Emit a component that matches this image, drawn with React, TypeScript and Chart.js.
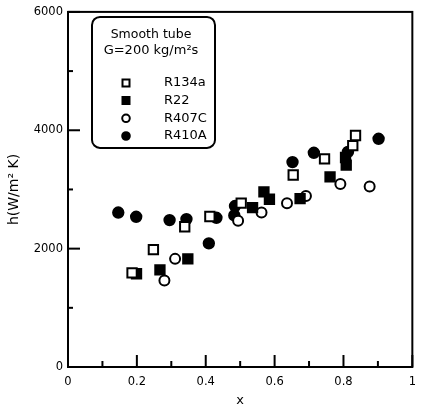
import React, { useEffect, useRef } from 'react';
import { Chart, registerables } from 'chart.js';

Chart.register(...registerables);

const seriesNames = ['R134a', 'R22', 'R407C', 'R410A'];

const xR134a = [0.186, 0.248, 0.339, 0.412, 0.503, 0.654, 0.745, 0.827, 0.835];
const hR134a = [1590, 1983, 2370, 2543, 2770, 3244, 3518, 3740, 3911];

const xR22 = [0.199, 0.267, 0.348, 0.536, 0.569, 0.585, 0.674, 0.761, 0.806, 0.808];
const hR22 = [1575, 1642, 1827, 2694, 2960, 2835, 2845, 3213, 3540, 3410];

const xR407C = [0.280, 0.311, 0.494, 0.562, 0.636, 0.691, 0.791, 0.876];
const hR407C = [1462, 1827, 2471, 2610, 2765, 2891, 3092, 3050];

const xR410A = [0.146, 0.198, 0.295, 0.344, 0.409, 0.431, 0.483, 0.485, 0.652, 0.714, 0.813, 0.902];
const hR410A = [2610, 2538, 2482, 2499, 2089, 2521, 2560, 2720, 3462, 3619, 3633, 3856];

const xTickLabels = ['0', '0.2', '0.4', '0.6', '0.8', '1'];
const yTickLabels = ['0', '2000', '4000', '6000'];

const legendTitle = ['Smooth tube', 'G=200 kg/m\u00b2s'];
const FONT = '"DejaVu Sans", "Liberation Sans", Arial, sans-serif';

function pts(xs: number[], ys: number[]) {
  return xs.map((x, i) => ({ x, y: ys[i] }));
}

const styles = [
  { pointStyle: 'rect', fill: '#ffffff', radius: 6.6 },
  { pointStyle: 'rect', fill: '#000000', radius: 6.6 },
  { pointStyle: 'circle', fill: '#ffffff', radius: 5 },
  { pointStyle: 'circle', fill: '#000000', radius: 5.2 },
];

const frameTicks = {
  id: 'frameTicks',
  afterDraw(chart: any) {
    const ctx = chart.ctx;
    const a = chart.chartArea;
    const xs = chart.scales.x;
    const ys = chart.scales.y;
    ctx.save();
    ctx.strokeStyle = '#000';
    ctx.lineWidth = 2;
    ctx.strokeRect(a.left, a.top, a.right - a.left, a.bottom - a.top);
    xs.ticks.forEach((t: any) => {
      const px = xs.getPixelForValue(t.value);
      const major = Math.round(t.value * 10) % 2 === 0;
      const len = major ? 12 : 6;
      ctx.beginPath();
      ctx.moveTo(px, a.bottom);
      ctx.lineTo(px, a.bottom - len);
      ctx.stroke();
    });
    ys.ticks.forEach((t: any) => {
      const py = ys.getPixelForValue(t.value);
      const major = Math.round(t.value / 1000) % 2 === 0;
      const len = major ? 12 : 5;
      ctx.beginPath();
      ctx.moveTo(a.left, py);
      ctx.lineTo(a.left + len, py);
      ctx.stroke();
    });
    ctx.restore();
  },
};

const legendBox = {
  id: 'legendBox',
  afterDraw(chart: any) {
    const ctx = chart.ctx;
    const a = chart.chartArea;
    const bx = a.left + 24;
    const by = a.top + 5;
    const bw = 123;
    const bh = 131;
    ctx.save();
    ctx.strokeStyle = '#000';
    ctx.lineWidth = 2;
    ctx.fillStyle = '#fff';
    ctx.beginPath();
    ctx.roundRect(bx, by, bw, bh, 8);
    ctx.fill();
    ctx.stroke();
    ctx.fillStyle = '#000';
    ctx.textAlign = 'center';
    ctx.textBaseline = 'middle';
    ctx.font = '12.5px ' + FONT;
    ctx.fillText(legendTitle[0], bx + 59, by + 18);
    ctx.font = '13px ' + FONT;
    ctx.fillText(legendTitle[1], bx + 59, by + 34);
    ctx.font = '13px ' + FONT;
    ctx.textAlign = 'left';
    seriesNames.forEach((name, i) => {
      const cy = by + 66 + i * 17.7;
      const cx = bx + 34;
      const st = styles[i];
      ctx.fillStyle = st.fill;
      ctx.strokeStyle = '#000';
      ctx.lineWidth = 2;
      ctx.beginPath();
      if (st.pointStyle === 'rect') {
        ctx.rect(cx - 3.5, cy - 3.5, 7, 7);
      } else {
        ctx.arc(cx, cy, 3.8, 0, Math.PI * 2);
      }
      ctx.fill();
      ctx.stroke();
      ctx.fillStyle = '#000';
      ctx.fillText(name, bx + 72, cy);
    });
    ctx.restore();
  },
};

export default function App() {
  const ref = useRef<HTMLCanvasElement | null>(null);
  useEffect(() => {
    if (!ref.current) return;
    const data = [pts(xR134a, hR134a), pts(xR22, hR22), pts(xR407C, hR407C), pts(xR410A, hR410A)];
    const chart = new Chart(ref.current, {
      type: 'scatter',
      data: {
        datasets: seriesNames.map((name, i) => ({
          label: name,
          data: data[i],
          pointStyle: styles[i].pointStyle as any,
          pointRadius: styles[i].radius,
          pointBackgroundColor: styles[i].fill,
          pointBorderColor: '#000',
          pointBorderWidth: 2,
          showLine: false,
        })),
      },
      options: {
        animation: false,
        responsive: false,
        maintainAspectRatio: false,
        layout: { padding: { top: 10, right: 2, left: 0, bottom: 0 } },
        plugins: { legend: { display: false }, tooltip: { enabled: false } },
        scales: {
          x: {
            type: 'linear',
            min: 0,
            max: 1,
            grid: { display: false, drawTicks: false },
            border: { display: false },
            ticks: {
              stepSize: 0.1,
              padding: 8,
              color: '#000',
              font: { family: FONT, size: 11.5 },
              maxRotation: 0,
              autoSkip: false,
              callback: (v: any) => {
                const k = Math.round(Number(v) * 10);
                return k % 2 === 0 ? xTickLabels[k / 2] : '';
              },
            },
            title: {
              display: true,
              text: 'x',
              color: '#000',
              font: { family: FONT, size: 13 },
              padding: { top: 0, bottom: 1 },
            },
            afterFit: (s: any) => {
              s.height = 42;
            },
          },
          y: {
            type: 'linear',
            min: 0,
            max: 6000,
            grid: { display: false, drawTicks: false },
            border: { display: false },
            ticks: {
              stepSize: 1000,
              padding: 5,
              color: '#000',
              font: { family: FONT, size: 11.5 },
              autoSkip: false,
              callback: (v: any) => {
                const k = Math.round(Number(v) / 1000);
                return k % 2 === 0 ? yTickLabels[k / 2] : '';
              },
            },
            title: {
              display: true,
              text: 'h(W/m\u00b2 K)',
              color: '#000',
              font: { family: FONT, size: 14 },
              padding: { top: 6, bottom: 0 },
            },
            afterFit: (s: any) => {
              s.width = 68;
            },
          },
        },
      },
      plugins: [frameTicks, legendBox],
    });
    return () => chart.destroy();
  }, []);
  return (
    <div style={{ position: 'fixed', left: 0, top: 0, width: 424, height: 409, background: '#fff' }}>
      <canvas ref={ref} width={424} height={409} style={{ display: 'block' }} />
    </div>
  );
}
